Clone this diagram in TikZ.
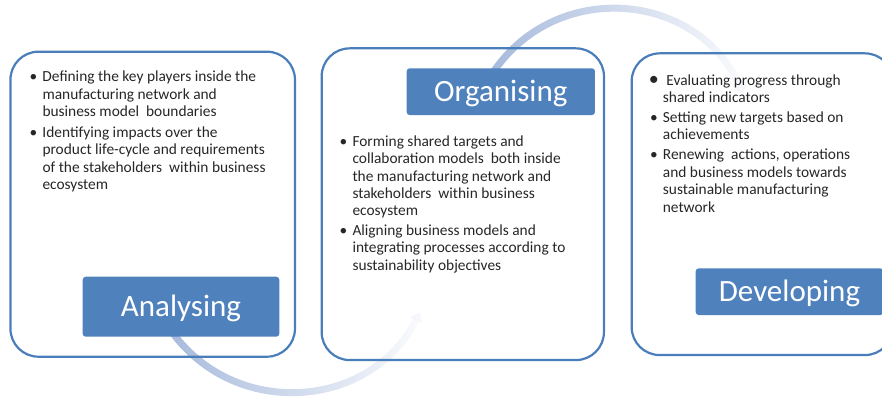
\documentclass[tikz,border=0pt]{standalone}
\usepackage{fontspec}
\setmainfont{Carlito}
\usetikzlibrary{arrows.meta,fadings}

\definecolor{edgeblue}{RGB}{74,126,187}
\definecolor{phaseblue}{RGB}{79,129,189}
\definecolor{arcblue}{RGB}{167,186,220}

\tikzfading[name=arcfade, left color=transparent!0, middle color=transparent!12, right color=transparent!95]

\tikzset{
  stage/.style={draw=edgeblue, line width=2.2pt, rounded corners=28pt, inner sep=0pt},
  phase/.style={fill=phaseblue, text=white, rounded corners=3pt, inner sep=0pt,
    font=\fontsize{31}{31}\selectfont, text height=20pt, text depth=0pt},
  points/.style={anchor=base west, inner sep=0pt, text=black!85,
    font=\fontsize{15.4}{17.4}\selectfont},
  cycle/.style={draw=arcblue, line width=7pt, path fading=arcfade,
    -{Triangle[length=9pt,width=14pt]}},
}
\newcommand{\bul}{\makebox[18pt]{\textbullet}}

\begin{document}
\begin{tikzpicture}[x=1pt,y=-1pt]
\useasboundingbox (0,0) rectangle (882,396);
\clip (0,0) rectangle (882,396);

% the cycle arcs
\coordinate (c1) at (170.4,329.7);
\coordinate (c2) at (420.1,312.3);
\coordinate (c3) at (493.2,72.3);
\coordinate (c4) at (743.6,94.3);
\draw[cycle] (c1) .. controls (233.5,419.8) and (370.2,410.3) .. (c2);
\draw[cycle] (c3) .. controls (556.3,-21.3) and (697.6,-8.9) .. (c4);

% stage frames
\node[stage, minimum width=284.5pt, minimum height=305pt] (anabox) at (152.7,204.2) {};
\node[stage, minimum width=282.3pt, minimum height=311.7pt] (orgbox) at (462.8,204.2) {};
\node[stage, minimum width=261.3pt, minimum height=301.7pt] (devbox) at (762.3,204.2) {};

% phase labels
\node[phase, minimum width=196.6pt, minimum height=60pt] (ana) at (181,306.7) {Analysing};
\node[phase, minimum width=188.3pt, minimum height=46.7pt] (org) at (500.8,91.7) {Organising};
\node[phase, minimum width=187.6pt, minimum height=46.7pt] (dev) at (789.5,291.7) {Developing};

% bullet texts
\node[points] (anatext) at (24.3,81.8) {\begin{tabular}[t]{@{}l@{}l@{}}
\bul & Defining the key players inside the\\
 & manufacturing network and\\
 & business model\ \ boundaries\\[3.2pt]
\bul & Identifying impacts over the\\
 & product life-cycle and requirements\\
 & of the stakeholders\ \ within business\\
 & ecosystem
\end{tabular}};
\node[points] (orgtext) at (334.3,146.2) {\begin{tabular}[t]{@{}l@{}l@{}}
\bul & Forming shared targets and\\
 & collaboration models\ \ both inside\\
 & the manufacturing network and\\
 & stakeholders\ \ within business\\
 & ecosystem\\[2pt]
\bul & Aligning business models and\\
 & integrating processes according to\\
 & sustainability objectives
\end{tabular}};
\node[points] (devtext) at (644.7,85.2) {\begin{tabular}[t]{@{}l@{}l@{}}
\makebox[18pt]{\fontsize{20}{17}\selectfont\textbullet} & \ Evaluating progress through\\
 & shared indicators\\[2.5pt]
\bul & Setting new targets based on\\
 & achievements\\[2.5pt]
\bul & Renewing\ \ actions, operations\\
 & and business models towards\\
 & sustainable manufacturing\\
 & network
\end{tabular}};
\end{tikzpicture}
\end{document}
